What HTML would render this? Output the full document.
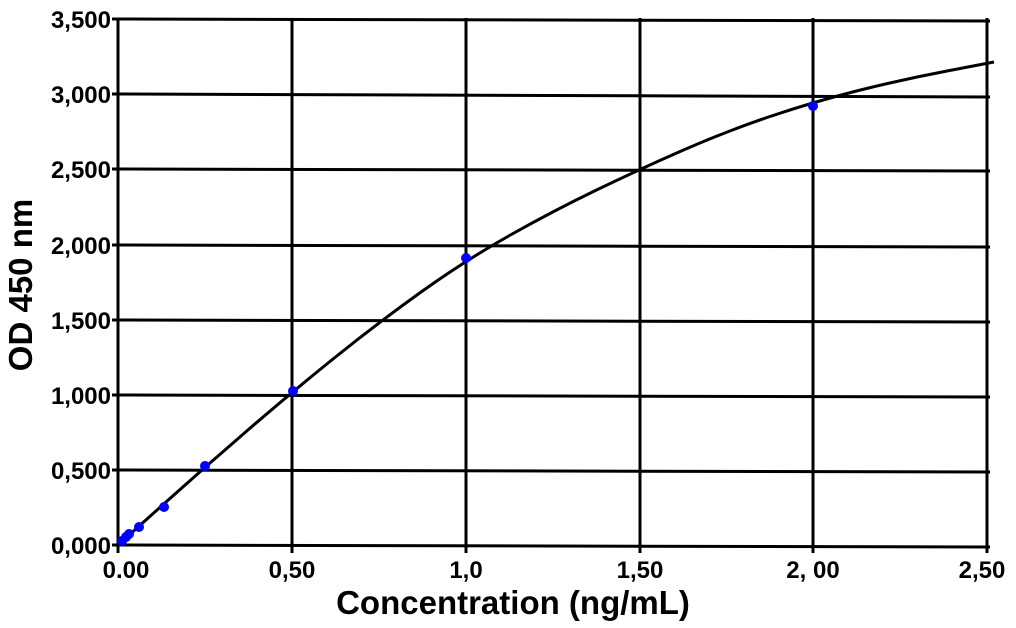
<!DOCTYPE html>
<html><head><meta charset="utf-8"><style>
body{margin:0;background:#fff}
text{font-family:"Liberation Sans",Arial,sans-serif;font-weight:bold;fill:#000}
</style></head><body>
<svg width="1016" height="623" viewBox="0 0 1016 623" xmlns="http://www.w3.org/2000/svg">
<g stroke="#000" stroke-width="3">
<line x1="112" y1="19" x2="990" y2="21"/>
<line x1="112" y1="94" x2="990" y2="97"/>
<line x1="112" y1="169" x2="990" y2="171"/>
<line x1="112" y1="245" x2="990" y2="247"/>
<line x1="112" y1="320" x2="990" y2="322"/>
<line x1="112" y1="395" x2="990" y2="397"/>
<line x1="112" y1="470" x2="990" y2="472"/>
<line x1="112" y1="545" x2="990" y2="547"/>
<line x1="118" y1="18" x2="118" y2="553"/>
<line x1="292" y1="18" x2="292" y2="553"/>
<line x1="466" y1="18" x2="466" y2="553"/>
<line x1="640" y1="18" x2="640" y2="553"/>
<line x1="813" y1="18" x2="813" y2="553"/>
<line x1="987" y1="18" x2="987" y2="553"/>
</g>
<path d="M118,545 L161.5,506 Q205,467 248.5,429.5 Q292,392 335.5,357 Q379,322 422.5,291 Q466,260 509.5,235.5 Q553,211 596.5,190 Q640,169 683.5,150 Q727,131 770,116.5 Q813,102 856.5,91 Q900,80 947,71 L994,62" fill="none" stroke="#000" stroke-width="3" stroke-linejoin="round"/>
<g fill="#0000ff">
<circle cx="122" cy="541" r="5"/><circle cx="126" cy="537" r="5"/><circle cx="129" cy="534" r="5"/>
<circle cx="139" cy="527" r="5"/><circle cx="164" cy="507" r="5"/><circle cx="205" cy="466" r="5"/>
<circle cx="293" cy="391" r="5"/><circle cx="466" cy="258" r="5"/><circle cx="813" cy="106" r="5"/>
</g>
<g font-size="24" text-anchor="end">
<text x="111" y="28">3,500</text><text x="111" y="103">3,000</text><text x="111" y="178">2,500</text>
<text x="111" y="254">2,000</text><text x="111" y="329">1,500</text><text x="111" y="404">1,000</text>
<text x="111" y="479">0,500</text><text x="111" y="554">0,000</text>
</g>
<g font-size="24" text-anchor="middle">
<text x="126" y="578">0.00</text><text x="292" y="578">0,50</text><text x="466" y="578">1,0</text>
<text x="640" y="578">1,50</text><text x="813" y="578">2, 00</text><text x="982" y="578">2,50</text>
</g>
<text x="513" y="614" font-size="33" text-anchor="middle">Concentration (ng/mL)</text>
<text transform="translate(32,285) rotate(-90)" font-size="33" text-anchor="middle">OD 450 nm</text>
</svg>
</body></html>
